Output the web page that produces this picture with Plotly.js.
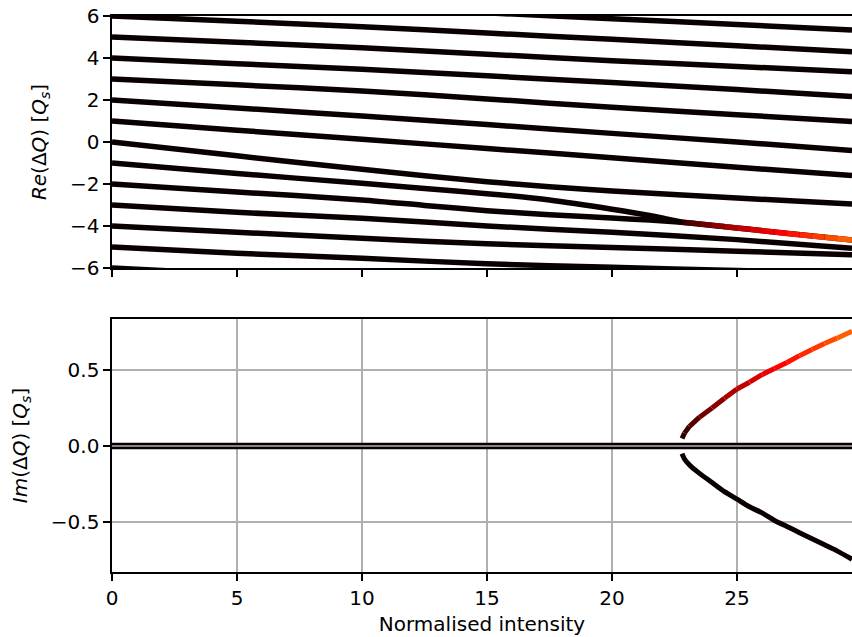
<!DOCTYPE html>
<html>
<head>
<meta charset="utf-8">
<script src="https://cdn.plot.ly/plotly-3.0.1.min.js"></script>
<style>html,body{margin:0;padding:0;background:#fff;}#chart{width:852px;height:637px;}</style>
</head>
<body>
<div id="chart"></div>
<script>
// ---------- data ----------
const xStable = [0, 5, 10, 15, 20, 25, 29.6];
const reMode7  = [7, 6.72, 6.43, 6.15, 5.87, 5.60, 5.33];
const reMode6  = [6, 5.75, 5.49, 5.19, 4.89, 4.58, 4.30];
const reMode5  = [5, 4.75, 4.49, 4.18, 3.87, 3.60, 3.35];
const reMode4  = [4, 3.73, 3.46, 3.15, 2.83, 2.50, 2.16];
const reMode3  = [3, 2.72, 2.43, 2.05, 1.65, 1.30, 0.97];
const reMode2  = [2, 1.62, 1.24, 0.83, 0.41, 0.00, -0.40];
const reMode1  = [1, 0.56, 0.13, -0.31, -0.75, -1.20, -1.60];
const reModeM3 = [-3, -3.35, -3.63, -4.00, -4.30, -4.65, -5.06];
const reModeM4 = [-4, -4.30, -4.59, -4.85, -5.02, -5.20, -5.37];
const reModeM5 = [-5, -5.30, -5.54, -5.80, -5.97, -6.12, -6.25];
const reModeM6 = [-6, -6.30, -6.60, -6.85, -7.10, -7.30, -7.50];

const xMode0  = [0, 5, 10, 12.5, 15, 17.5, 20, 25, 29.6];
const reMode0 = [0, -0.66, -1.30, -1.61, -1.89, -2.13, -2.33, -2.67, -2.95];

const xApproach = [0, 5, 10, 12.5, 15, 17.5, 20, 21.5, 22.8];
const reModeM1  = [-1, -1.50, -1.97, -2.22, -2.46, -2.76, -3.20, -3.50, -3.82];
const reModeM2  = [-2, -2.38, -2.76, -3.02, -3.27, -3.46, -3.62, -3.72, -3.82];

const xCoupled  = [22.8, 22.9, 23.1, 23.5, 24, 24.5, 25, 25.5, 26, 26.5, 27, 27.5, 28, 28.5, 29, 29.6];
const reCoupled = [-3.82, -3.83, -3.85, -3.90, -3.97, -4.03, -4.10, -4.16, -4.23, -4.29, -4.36, -4.42, -4.48, -4.54, -4.60, -4.67];
const imUpper   = [0.05, 0.085, 0.13, 0.19, 0.25, 0.315, 0.375, 0.42, 0.47, 0.51, 0.55, 0.595, 0.635, 0.675, 0.71, 0.755];
const imLower   = [-0.05, -0.085, -0.125, -0.18, -0.24, -0.30, -0.35, -0.40, -0.44, -0.49, -0.53, -0.57, -0.61, -0.65, -0.69, -0.745];

const xStableIm = [0, 29.6];
const imStable  = [0.013, -0.013];

const xTicks   = [0, 5, 10, 15, 20, 25];
const reTicks  = [-6, -4, -2, 0, 2, 4, 6];
const imTicks  = [-0.5, 0, 0.5];
const imTickText = ['\u22120.5', '0.0', '0.5'];

// ---------- styling ----------
const BLACK = 'rgb(10,0,0)';
const VMAX = 1.45;
function hot(t) {
  t = Math.max(0, Math.min(1, t));
  const r = t < 0.365079 ? 0.0416 + (1 - 0.0416) * t / 0.365079 : 1;
  const g = t < 0.365079 ? 0 : (t < 0.746032 ? (t - 0.365079) / (0.746032 - 0.365079) : 1);
  const b = t < 0.746032 ? 0 : (t - 0.746032) / (1 - 0.746032);
  return 'rgb(' + Math.round(r * 255) + ',' + Math.round(g * 255) + ',' + Math.round(b * 255) + ')';
}
const LW = 5.5;
const traces = [];
function line(x, y, xa, ya, color, w, shape) {
  traces.push({x: x, y: y, xaxis: xa, yaxis: ya, type: 'scatter', mode: 'lines',
    line: {color: color, width: w || LW, shape: shape || 'linear', smoothing: 0.8},
    hoverinfo: 'skip', showlegend: false});
}
// top panel: real parts
[reMode7, reMode6, reMode5, reMode4, reMode3, reMode2, reMode1,
 reModeM3, reModeM4, reModeM5, reModeM6].forEach(function (ys) { line(xStable, ys, 'x', 'y', BLACK, LW, 'spline'); });
line(xMode0, reMode0, 'x', 'y', BLACK, LW, 'spline');
line(xApproach, reModeM1, 'x', 'y', BLACK, LW, 'spline');
line(xApproach, reModeM2, 'x', 'y', BLACK, LW, 'spline');
line(xCoupled, reCoupled, 'x', 'y', BLACK);
for (let i = 0; i < xCoupled.length - 1; i++) {
  const c = hot(((imUpper[i] + imUpper[i + 1]) / 2) / VMAX);
  line([xCoupled[i], xCoupled[i + 1]], [reCoupled[i], reCoupled[i + 1]], 'x', 'y', c);
}
// bottom panel: imaginary parts
imStable.forEach(function (v) { line(xStableIm, [v, v], 'x2', 'y2', BLACK, 2.6); });
line(xCoupled, imLower, 'x2', 'y2', BLACK, 5, 'spline');
for (let i = 0; i < xCoupled.length - 1; i++) {
  const c = hot(((imUpper[i] + imUpper[i + 1]) / 2) / VMAX);
  line([xCoupled[i], xCoupled[i + 1]], [imUpper[i], imUpper[i + 1]], 'x2', 'y2', c, 5);
}

const FONT = {family: 'DejaVu Sans, sans-serif', size: 20, color: '#000'};
const axisCommon = {
  showline: true, linecolor: '#000', linewidth: 1.6,
  ticks: 'outside', ticklen: 7, tickwidth: 1.6, tickcolor: '#000',
  zeroline: false, tickfont: FONT, fixedrange: true
};
const layout = {
  width: 852, height: 637,
  margin: {l: 112, r: 0, t: 16, b: 65},
  paper_bgcolor: '#fff', plot_bgcolor: '#fff',
  font: FONT,
  showlegend: false,
  xaxis: Object.assign({}, axisCommon, {
    domain: [0, 1], anchor: 'y', range: [0, 29.6], tickvals: xTicks,
    showticklabels: false, mirror: true, showgrid: false
  }),
  yaxis: Object.assign({}, axisCommon, {
    domain: [0.5468, 1], anchor: 'x', range: [-6, 6], tickvals: reTicks,
    showgrid: false,
    title: {text: '<i>Re</i>(\u0394<i>Q</i>) [<i>Q</i><sub><i>s</i></sub>]', font: FONT, standoff: 18}
  }),
  xaxis2: Object.assign({}, axisCommon, {
    domain: [0, 1], anchor: 'y2', range: [0, 29.6], tickvals: xTicks,
    mirror: true, showgrid: true, gridcolor: '#b0b0b0', gridwidth: 1.6,
    title: {text: 'Normalised intensity', font: FONT, standoff: 8}
  }),
  yaxis2: Object.assign({}, axisCommon, {
    domain: [0, 0.455], anchor: 'x2', range: [-0.829, 0.836], tickvals: imTicks, ticktext: imTickText,
    showgrid: true, gridcolor: '#b0b0b0', gridwidth: 1.6,
    title: {text: '<i>Im</i>(\u0394<i>Q</i>) [<i>Q</i><sub><i>s</i></sub>]', font: FONT, standoff: 18}
  })
};
Plotly.newPlot('chart', traces, layout, {displayModeBar: false, staticPlot: true});
</script>
</body>
</html>
